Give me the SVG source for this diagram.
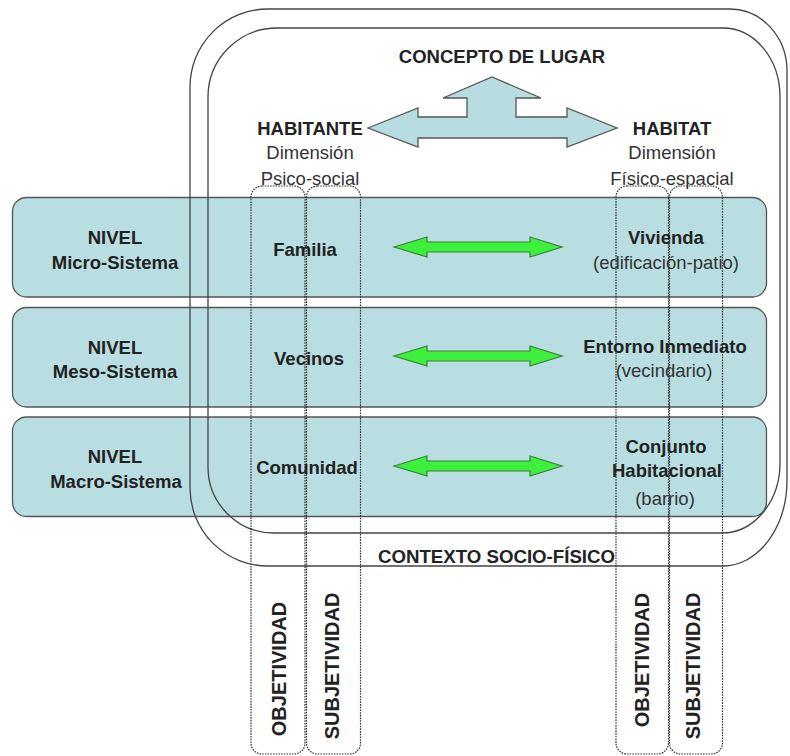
<svg xmlns="http://www.w3.org/2000/svg" width="790" height="756" viewBox="0 0 790 756">
<style>
.band{fill:#b9dee2;stroke:#555;stroke-width:1.3}
.frame{fill:none;stroke:#444;stroke-width:1.3}
.col{fill:none;stroke:#333;stroke-width:1.2;stroke-dasharray:1.6 1.1}
.b{font-family:"Liberation Sans",Arial,sans-serif;font-weight:bold;font-size:18.5px;fill:#222;text-anchor:middle}
.r{font-family:"Liberation Sans",Arial,sans-serif;font-size:18.5px;fill:#333;text-anchor:middle}
.v{font-family:"Liberation Sans",Arial,sans-serif;font-weight:bold;font-size:20px;fill:#222;text-anchor:middle}
.green{fill:#3cf03c;stroke:#3d7d3d;stroke-width:1.2}
.big{fill:#b7dde1;stroke:#555;stroke-width:1.3}
</style>
<rect width="790" height="756" fill="#fff"/>
<g id="levels">
<g id="level-micro"><rect class="band" x="12.5" y="197.5" width="754" height="99.5" rx="14"/></g>
<g id="level-meso"><rect class="band" x="12.5" y="307.5" width="754" height="99.5" rx="14"/></g>
<g id="level-macro"><rect class="band" x="12.5" y="417" width="754" height="99.5" rx="14"/></g>
</g>
<g id="contexto-frame">
<path class="frame" d="M268,9 H730 A57,62 0 0 1 787,71 V480 A64,86 0 0 1 723,566 H268 A78,78 0 0 1 190,488 V87 A78,78 0 0 1 268,9 Z"/>
</g>
<g id="lugar-frame">
<path class="frame" d="M277,28 H723 A57,69 0 0 1 780,97 V463 A58,70 0 0 1 722,533 H274 A66,66 0 0 1 208,467 V97 A69,69 0 0 1 277,28 Z"/>
</g>
<g id="columns">
<g id="col-hab-obj"><rect class="col" x="251" y="186" width="54" height="568" rx="11"/></g>
<g id="col-hab-subj"><rect class="col" x="306.5" y="186" width="54" height="568" rx="11"/></g>
<g id="col-hat-obj"><rect class="col" x="616" y="186" width="52.5" height="568" rx="11"/></g>
<g id="col-hat-subj"><rect class="col" x="669.5" y="186" width="53" height="568" rx="11"/></g>
</g>
<g id="connectors">
<polygon id="arrow-lugar" class="big" points="368,128 418,108 418,117 467,117 467,98 443,98 492,77 541,98 516,98 516,117 567,117 567,108 617,128 567,147 567,138 418,138 418,147"/>
<polygon id="arrow-micro" class="green" points="394,247 427,237 427,242 530,242 530,237 562,247 530,257 530,252 427,252 427,257"/>
<polygon id="arrow-meso" class="green" points="394,356 427,346 427,351 530,351 530,346 562,356 530,366 530,361 427,361 427,366"/>
<polygon id="arrow-macro" class="green" points="394,466 427,456 427,461 530,461 530,456 562,466 530,476 530,471 427,471 427,476"/>
</g>
<g id="labels-top">
<text class="b" x="502" y="63">CONCEPTO DE LUGAR</text>
<g id="habitante"><text class="b" x="310" y="135">HABITANTE</text><text class="r" x="310" y="159">Dimensión</text><text class="r" x="310" y="185">Psico-social</text></g>
<g id="habitat"><text class="b" x="672" y="135">HABITAT</text><text class="r" x="672" y="159">Dimensión</text><text class="r" x="672" y="185">Físico-espacial</text></g>
<text class="b" x="496.5" y="563" font-size="17" textLength="237" lengthAdjust="spacingAndGlyphs">CONTEXTO SOCIO-FÍSICO</text>
</g>
<g id="labels-levels">
<text class="b" x="115" y="244">NIVEL</text><text class="b" x="115" y="269">Micro-Sistema</text>
<text class="b" x="115" y="354">NIVEL</text><text class="b" x="115" y="378">Meso-Sistema</text>
<text class="b" x="115" y="463">NIVEL</text><text class="b" x="116" y="488">Macro-Sistema</text>
</g>
<g id="labels-habitante">
<text class="b" x="305" y="256">Familia</text>
<text class="b" x="309" y="365">Vecinos</text>
<text class="b" x="307" y="474">Comunidad</text>
</g>
<g id="labels-habitat">
<text class="b" x="666" y="244">Vivienda</text><text class="r" x="666" y="269">(edificación-patio)</text>
<text class="b" x="665" y="353">Entorno Inmediato</text><text class="r" x="664" y="377">(vecindario)</text>
<text class="b" x="666" y="453">Conjunto</text><text class="b" x="667" y="477">Habitacional</text><text class="r" x="665" y="505">(barrio)</text>
</g>
<g id="labels-columns">
<text class="v" transform="translate(286,669) rotate(-90)">OBJETIVIDAD</text>
<text class="v" transform="translate(339,666) rotate(-90)">SUBJETIVIDAD</text>
<text class="v" transform="translate(649,660) rotate(-90)">OBJETIVIDAD</text>
<text class="v" transform="translate(700,666) rotate(-90)">SUBJETIVIDAD</text>
</g>
</svg>
